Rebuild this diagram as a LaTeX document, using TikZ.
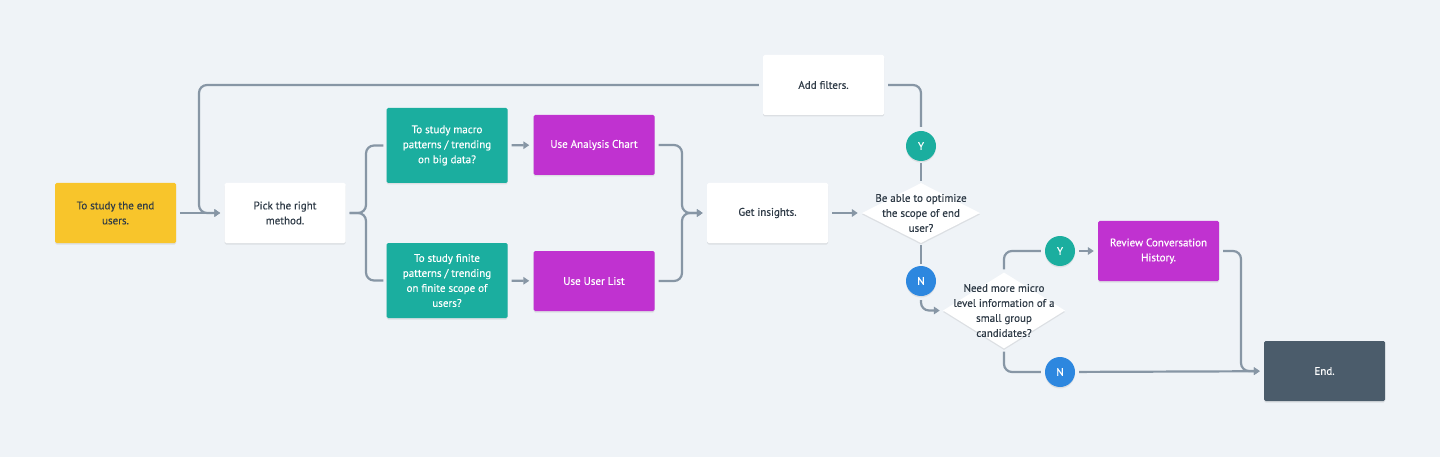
\documentclass[tikz,border=0pt]{standalone}
\usepackage{fontspec}
\setmainfont{PT Sans}
\newfontfamily\medfont{PT Sans}[FakeBold=0.3]
\usetikzlibrary{arrows.meta,shapes.geometric,shadows}
\definecolor{bg}{HTML}{EFF3F7}
\definecolor{txt}{HTML}{2E3A46}
\definecolor{yel}{HTML}{F8C52B}
\definecolor{teal}{HTML}{1BAE9F}
\definecolor{purp}{HTML}{C032D0}
\definecolor{blu}{HTML}{2D87DF}
\definecolor{slate}{HTML}{4B5C6B}
\definecolor{conn}{HTML}{8796A5}
\newcommand\dfont{\medfont\fontsize{11}{15}\selectfont}
\begin{document}
\begin{tikzpicture}[x=1pt,y=-1pt,
  shad/.style={drop shadow={shadow xshift=0pt,shadow yshift=-1.5pt,opacity=0.08,fill=black}},
  box/.style={rectangle,rounded corners=1.5pt,minimum width=121pt,minimum height=60pt,inner sep=2pt,align=center,font=\dfont,text=txt,fill=white,shad},
  tallbox/.style={box,minimum height=75pt},
  dia/.style={diamond,fill=white,inner sep=0pt,shad},
  dtext/.style={align=center,font=\dfont,text=txt,inner sep=0pt},
  yn/.style={circle,minimum size=30pt,inner sep=0pt,text=white,font=\dfont,shad},
  link/.style={draw=conn,line width=2.2pt,rounded corners=8pt,shorten <=4pt,shorten >=4pt},
  arr/.style={link,-{Triangle[length=6pt,width=7.5pt]}},
]
\fill[bg] (0,0) rectangle (1440,457);
\useasboundingbox (0,0) rectangle (1440,457);

\node[box,fill=yel] (start) at (115.5,213) {To study the end\\users.};
\node[box] (pick) at (285,213) {Pick the right\\method.};
\node[tallbox,fill=teal,text=white] (macro) at (447,145.5) {To study macro\\patterns / trending\\on big data?};
\node[tallbox,fill=teal,text=white] (finite) at (447,280.5) {To study finite\\patterns / trending\\on finite scope of\\users?};
\node[box,fill=purp,text=white] (chart) at (594,145) {Use Analysis Chart};
\node[box,fill=purp,text=white] (list) at (594,281) {Use User List};
\node[box] (insights) at (767.5,213) {Get insights.};
\node[box] (filters) at (823.5,85) {Add filters.};
\node[dia,minimum width=118pt,minimum height=60pt] (d1) at (921,213) {};
\node[dtext] (d1t) at (d1) {Be able to optimize\\the scope of end\\user?};
\node[yn,fill=teal] (y1) at (921,146) {Y};
\node[yn,fill=blu] (n1) at (921,281) {N};
\node[dia,minimum width=122pt,minimum height=76pt] (d2) at (1004,310.5) {};
\node[dtext] (d2t) at (d2) {Need more micro\\level information of a\\small group\\candidates?};
\node[yn,fill=teal] (y2) at (1060,251) {Y};
\node[yn,fill=blu] (n2) at (1060,372) {N};
\node[box,fill=purp,text=white] (review) at (1158.5,251) {Review Conversation\\History.};
\node[box,fill=slate,text=white] (end) at (1324.5,371) {End.};

\coordinate (cx) at (199,85);
\coordinate (bx) at (366,213);
\coordinate (jx) at (682,213);
\coordinate (ex) at (1241,371);

\draw[arr] (start) -- (pick);
\draw[arr] (filters.west) -- (cx) -- (cx |- pick.west) -- (pick.west);
\draw[link,shorten >=3pt] (pick.east) -- (bx) |- (macro.west);
\draw[link,shorten >=3pt] (pick.east) -- (bx) |- (finite.west);
\draw[arr] (macro) -- (chart);
\draw[arr] (finite) -- (list);
\draw[arr] (chart.east) -| (jx) -- (insights.west);
\draw[arr] (list.east) -| (jx) -- (insights.west);
\draw[arr] (insights) -- (d1);
\draw[link,shorten <=2pt,shorten >=2pt] (d1.north) -- (y1.south);
\draw[link] (y1.north) |- (filters.east);
\draw[link,shorten <=2pt,shorten >=2pt] (d1.south) -- (n1.north);
\draw[arr,shorten >=3pt] (n1.south) |- (d2.west);
\draw[link,shorten <=3pt] (d2.north) |- (y2.west);
\draw[arr] (y2) -- (review);
\draw[link,shorten <=3pt] (d2.south) |- (n2.west);
\draw[arr] (n2) -- (end);
\draw[arr] (review.east) -| (ex) -- (end.west);
\end{tikzpicture}
\end{document}
